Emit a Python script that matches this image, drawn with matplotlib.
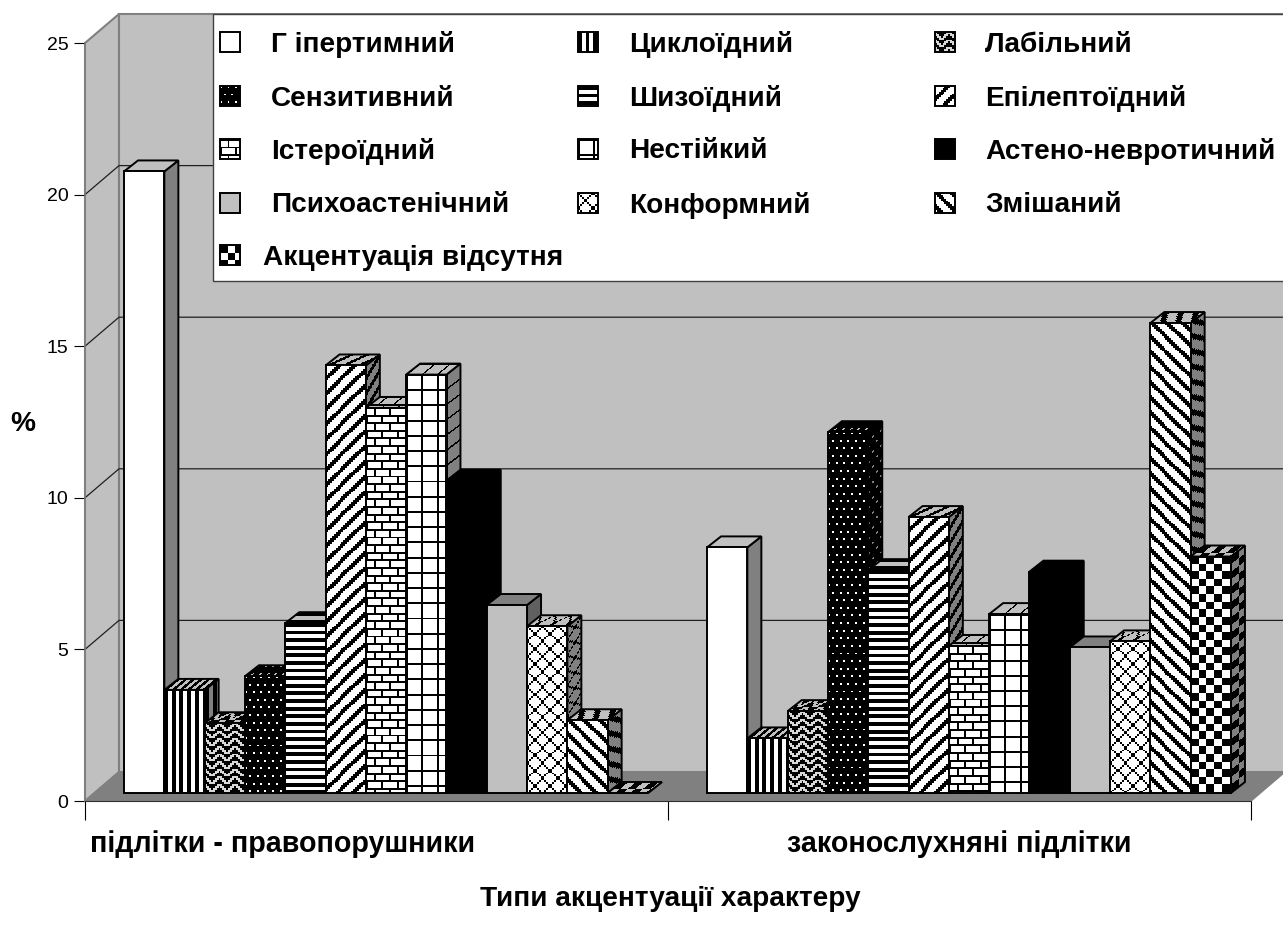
import numpy as np
import matplotlib
matplotlib.use('Agg')
import matplotlib.pyplot as plt
from matplotlib.patches import Rectangle
from matplotlib.transforms import Affine2D

plt.rcParams['font.family'] = ['Liberation Sans', 'DejaVu Sans']

# series in drawing order
types = ['Г іпертимний', 'Циклоїдний', 'Лабільний', 'Сензитивний', 'Шизоїдний',
         'Епілептоїдний', 'Істероїдний', 'Нестійкий', 'Астено-невротичний',
         'Психоастенічний', 'Конформний', 'Змішаний', 'Акцентуація відсутня']
offenders = [20.5, 3.4, 2.3, 3.85, 5.6, 14.1, 12.7, 13.8, 10.3, 6.2, 5.5, 2.4, 0.0]
law_abiding = [8.1, 1.8, 2.7, 11.9, 7.35, 9.1, 4.85, 5.9, 7.3, 4.8, 5.0, 15.5, 7.8]
groups = ['підлітки - правопорушники', 'законослухняні підлітки']
y_ticks = [0, 5, 10, 15, 20, 25]

# 8x8 fill bitmaps, 1 = black
PATTERNS = {
    'vert': ['11001100'] * 8,
    'zigzag': ['01111100', '00111001', '10010011', '11000111'] * 2,
    'dots': ['01110111', '11111111', '11111111', '11111111',
             '11011101', '11111111', '11111111', '11111111'],
    'horiz': ['11111111', '11111111', '00000000', '00000000'] * 2,
    'up': ['00000111', '00001110', '00011100', '00111000',
           '01110000', '11100000', '11000001', '10000011'],
    'brick': ['11111111', '00001000', '00001000', '00001000',
              '11111111', '10000000', '10000000', '10000000'],
    'grid': ['11111111'] + ['10000000'] * 7,
    'diamond': ['10000001', '01000010', '00100100', '00011000',
                '00011000', '00100100', '01000010', '10000001'],
    'down': ['11100000', '01110000', '00111000', '00011100',
             '00001110', '00000111', '10000011', '11000001'],
    'check': ['11110000'] * 4 + ['00001111'] * 4,
}
# front colour and pattern of every series
fills = [('#ffffff', None), ('#ffffff', 'vert'), ('#d8d8d8', 'zigzag'), ('#ffffff', 'dots'),
         ('#ffffff', 'horiz'), ('#ffffff', 'up'), ('#ffffff', 'brick'), ('#ffffff', 'grid'),
         ('#000000', None), ('#c0c0c0', None), ('#ffffff', 'diamond'), ('#ffffff', 'down'),
         ('#ffffff', 'check')]

PX_X = 583.0    # pixels per category
PX_Y = 30.32    # pixels per percent
WALL_X, WALL_Y = 34 / PX_X, 29 / PX_Y
BASE_X, BASE_Y = 9.5 / PX_X, 8 / PX_Y
DEPTH_X, DEPTH_Y = 14 / PX_X, 11 / PX_Y
BIT_X, BIT_Y = 1.9 / PX_X, 1.9 / PX_Y
BAR_W = 40.3 / PX_X
GRAY = '#808080'
LIGHT = '#c0c0c0'
TEXT_SIZE = 20.2


def px(x, y):
    # picture pixels to data coordinates
    return (x - 85) / PX_X, (801 - y) / PX_Y


def hex_rgb(c):
    return [int(c[i:i + 2], 16) / 255 for i in (1, 3, 5)]


def texture(ax, patch, pattern, bg, origin, u, v, nx, ny, z):
    if pattern is None or nx < 1 or ny < 1:
        return
    bits = np.array([[int(c) for c in row] for row in PATTERNS[pattern]])
    bits = np.tile(bits, (ny // 8 + 1, nx // 8 + 1))[:ny, :nx]
    rgb = np.where(bits[..., None] == 1, np.zeros(3), np.array(hex_rgb(bg)))
    tr = Affine2D.from_values(u[0], u[1], v[0], v[1], origin[0], origin[1])
    im = ax.imshow(rgb, extent=(0, nx, ny, 0), origin='upper', aspect='auto',
                   interpolation='nearest', transform=tr + ax.transData, zorder=z)
    im.set_clip_path(patch)


def draw_bar(ax, x, value, front, pattern, z):
    y0 = BASE_Y
    top = y0 + value
    if front == '#000000':
        top_col, side_col = '#000000', '#000000'
    elif front == LIGHT:
        top_col, side_col = GRAY, '#606060'
    else:
        top_col, side_col = LIGHT, GRAY
    lw = 1.4
    # side
    side = ax.fill([x + BAR_W, x + BAR_W + DEPTH_X, x + BAR_W + DEPTH_X, x + BAR_W],
                   [top, top + DEPTH_Y, y0 + DEPTH_Y, y0],
                   fc=side_col, ec='none', zorder=z)[0]
    texture(ax, side, pattern, side_col, (x + BAR_W, top),
            (BIT_X, BIT_X * DEPTH_Y / DEPTH_X), (0, -BIT_Y),
            int(DEPTH_X / BIT_X) + 2, int(value / BIT_Y) + 2, z + 0.1)
    ax.fill([x + BAR_W, x + BAR_W + DEPTH_X, x + BAR_W + DEPTH_X, x + BAR_W],
            [top, top + DEPTH_Y, y0 + DEPTH_Y, y0],
            fill=False, ec='black', lw=lw, zorder=z + 0.2)
    # top
    roof_x = [x, x + DEPTH_X, x + BAR_W + DEPTH_X, x + BAR_W]
    roof_y = [top, top + DEPTH_Y, top + DEPTH_Y, top]
    roof = ax.fill(roof_x, roof_y, fc=top_col, ec='none', zorder=z + 0.3)[0]
    texture(ax, roof, pattern, top_col, (x + DEPTH_X, top + DEPTH_Y),
            (BIT_X, 0), (-BIT_Y * DEPTH_X / DEPTH_Y, -BIT_Y),
            int(BAR_W / BIT_X) + 2, int(DEPTH_Y / BIT_Y) + 2, z + 0.4)
    ax.fill(roof_x, roof_y, fill=False, ec='black', lw=lw, zorder=z + 0.5)
    # front
    if value > 0:
        rects = ax.bar([x], [value], width=BAR_W, bottom=y0, align='edge',
                       color=front, edgecolor='none', zorder=z + 0.6)
        texture(ax, rects[0], pattern, front, (x, top), (BIT_X, 0), (0, -BIT_Y),
                int(BAR_W / BIT_X) + 2, int(value / BIT_Y) + 2, z + 0.7)
        ax.bar([x], [value], width=BAR_W, bottom=y0, align='edge', fill=False,
               edgecolor='black', linewidth=lw, zorder=z + 0.8)


fig = plt.figure(figsize=(12.83, 9.38), dpi=100)
ax = fig.add_axes([85 / 1283, (938 - 801) / 938, 2 * PX_X / 1283, 25 * PX_Y / 938])
ax.patch.set_visible(False)

# walls and floor
ax.fill([0, WALL_X, WALL_X, 0], [0, WALL_Y, 25 + WALL_Y, 25], fc=LIGHT, ec=GRAY, lw=1.5,
        clip_on=False, zorder=1)
ax.fill([WALL_X, 2 + WALL_X, 2 + WALL_X, WALL_X], [WALL_Y, WALL_Y, 25 + WALL_Y, 25 + WALL_Y],
        fc=LIGHT, ec=GRAY, lw=1.5, clip_on=False, zorder=1)
for t in y_ticks[1:-1]:
    ax.plot([0, WALL_X, 2 + WALL_X], [t, t + WALL_Y, t + WALL_Y], color='#202020', lw=0.9,
            clip_on=False, zorder=1.5)
ax.fill([0, WALL_X, 2 + WALL_X, 2], [0, WALL_Y, WALL_Y, 0], fc=GRAY, ec=GRAY, lw=1,
        clip_on=False, zorder=2)

# bars
gap = (1 - 13 * BAR_W) / 2
z = 3
for g, values in enumerate([offenders, law_abiding]):
    for i, value in enumerate(values):
        front, pattern = fills[i]
        draw_bar(ax, g + gap + BASE_X + i * BAR_W, value, front, pattern, z)
        z += 1

# legend box
lx0, ly0 = px(213, 281)
lx1, ly1 = px(1290, 14)
ax.add_patch(Rectangle((lx0, ly0), lx1 - lx0, ly1 - ly0, fc='white', ec='#404040', lw=1,
                       clip_on=False, zorder=z))
z += 1
swatch_x = [220, 578, 935]
text_x = [271, 629, 985]
row_y = [42, 96, 149, 203, 255]
for i, name in enumerate(types):
    row, col = i // 3, i % 3
    front, pattern = fills[i]
    sx, sy = px(swatch_x[col], row_y[row] + 10)
    sw, sh = 20 / PX_X, 20 / PX_Y
    rect = Rectangle((sx, sy), sw, sh, fc=front, ec='none', clip_on=False, zorder=z)
    ax.add_patch(rect)
    texture(ax, rect, pattern, front, (sx, sy + sh), (BIT_X, 0), (0, -BIT_Y), 12, 12, z + 0.1)
    ax.add_patch(Rectangle((sx, sy), sw, sh, fill=False, ec='black', lw=1.4,
                           clip_on=False, zorder=z + 0.2))
    tx, ty = px(263 if i == 12 else text_x[col], row_y[row] + 2.5)
    ax.text(tx, ty, name, fontsize=TEXT_SIZE, fontweight='bold', va='center', ha='left',
            clip_on=False, zorder=z + 0.3)

# axes furniture
ax.set_xlim(0, 2)
ax.set_ylim(0, 25)
ax.set_aspect('auto')
ax.set_yticks(y_ticks)
ax.set_xticks([0, 1, 2])
ax.set_xticklabels([])
ax.tick_params(axis='y', length=8, width=0.8, labelsize=14, pad=4, colors='black')
ax.tick_params(axis='x', length=14, width=0.8, color='black')
for name in ['top', 'right']:
    ax.spines[name].set_visible(False)
ax.spines['left'].set_color(GRAY)
ax.spines['left'].set_linewidth(1.2)
ax.spines['bottom'].set_color('#303030')
ax.spines['bottom'].set_linewidth(0.8)

ax.text(*px(283, 844), groups[0], fontsize=20.6, fontweight='bold', ha='center', va='center')
ax.text(*px(959, 844), groups[1], fontsize=20.6, fontweight='bold', ha='center', va='center')
ax.set_xlabel('Типи акцентуації характеру', fontsize=TEXT_SIZE, fontweight='bold', va='center')
ax.xaxis.set_label_coords((670 - 85) / (2 * PX_X), (801 - 899) / (25 * PX_Y))
ax.set_ylabel('%', fontsize=TEXT_SIZE, fontweight='bold', rotation=0, va='center', ha='center')
ax.yaxis.set_label_coords((23 - 85) / (2 * PX_X), (801 - 424) / (25 * PX_Y))

fig.savefig('out.png', dpi=100)
